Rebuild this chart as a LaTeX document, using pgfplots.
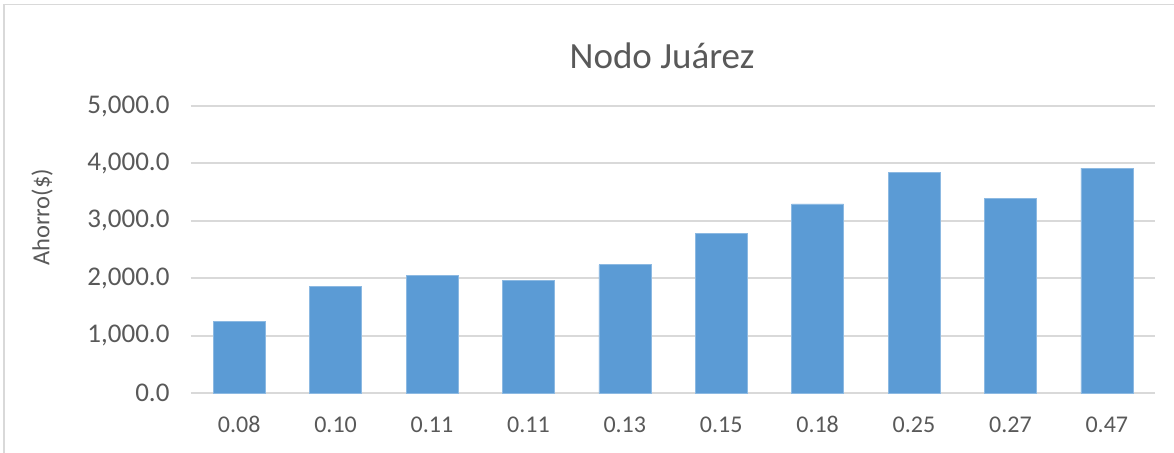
\documentclass[border=0pt]{standalone}
\usepackage{pgfplots}
\pgfplotsset{compat=1.18}
\usepackage{fontspec}
\setmainfont{Carlito}
\definecolor{barblue}{HTML}{5B9BD5}
\definecolor{txtgray}{HTML}{595959}
\definecolor{gridgray}{HTML}{D9D9D9}
\begin{document}
\begin{tikzpicture}[x=1pt,y=1pt]
\useasboundingbox (-191,-58.7) rectangle (983,393.3);
\draw[gridgray,line width=1.2pt] (-187,-60) -- (-187,389) -- (990,389);
\begin{axis}[
  at={(0,0)}, anchor=south west,
  scale only axis, width=964pt, height=287.3pt,
  xmin=-0.5, xmax=9.5, ymin=0, ymax=5000,
  xtick={0,...,9},
  xticklabels={0.08,0.10,0.11,0.11,0.13,0.15,0.18,0.25,0.27,0.47},
  ytick={0,1000,2000,3000,4000,5000},
  /pgf/number format/fixed,
  /pgf/number format/fixed zerofill,
  /pgf/number format/precision=1,
  /pgf/number format/1000 sep={,},
  /pgf/number format/assume math mode=true,
  ticklabel style={font=\fontsize{27}{31}\selectfont, text=txtgray},
  xticklabel style={font=\fontsize{24}{28}\selectfont, text=txtgray, anchor=base, yshift=-39pt},
  yticklabel style={xshift=-18pt},
  major tick length=0pt,
  axis line style={draw=none},
  ymajorgrids, grid style={gridgray,line width=2pt},
  ybar, bar width=52pt,
  clip=false,
]
\addplot[fill=barblue, draw=barblue!70!white, line width=0.6pt] coordinates {
(0,1257) (1,1861) (2,2057) (3,1959) (4,2237)
(5,2783) (6,3297) (7,3849) (8,3397) (9,3918)};
\end{axis}
\node[font=\fontsize{37}{44}\selectfont, text=txtgray] at (471,338) {Nodo Juárez};
\node[font=\fontsize{24.5}{29}\selectfont, text=txtgray, rotate=90] at (-149,176) {Ahorro(\$)};
\end{tikzpicture}
\end{document}
